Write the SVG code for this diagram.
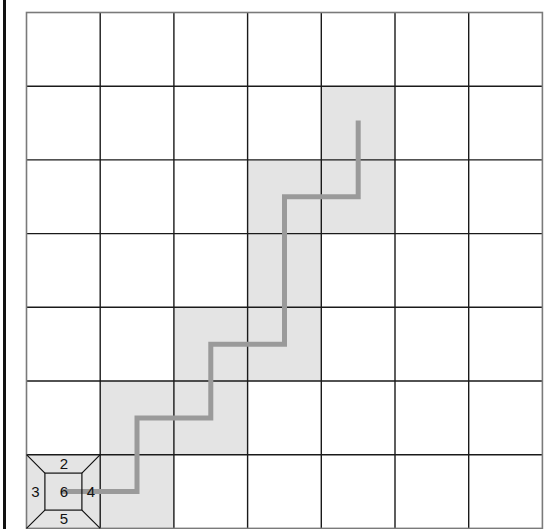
<svg xmlns="http://www.w3.org/2000/svg" width="560" height="529" viewBox="0 0 560 529">
<style>
.shade{fill:#e4e4e4;stroke:none}
.grid{stroke:#1a1a1a;stroke-width:1.4;fill:none}
.outer{stroke:#7a7a7a;stroke-width:1.6;fill:none}
.path{stroke:#9a9a9a;stroke-width:5;fill:none;stroke-linecap:square;stroke-linejoin:miter}
.fr{stroke:#111;stroke-width:1.2;fill:none}
.lbl{font-family:"Liberation Sans",Arial,sans-serif;font-size:15px;fill:#111;text-anchor:middle}
</style>
<rect width="560" height="529" fill="#fff"/>
<line x1="4.5" y1="0" x2="4.5" y2="529" stroke="#111" stroke-width="3"/>
<g id="shaded">
<rect class="shade" x="26.5" y="454.7" width="147.4" height="73.7"/>
<rect class="shade" x="100.2" y="381" width="147.4" height="73.7"/>
<rect class="shade" x="173.9" y="307.3" width="147.4" height="73.7"/>
<rect class="shade" x="247.6" y="233.6" width="73.7" height="73.7"/>
<rect class="shade" x="247.6" y="159.9" width="147.4" height="73.7"/>
<rect class="shade" x="321.3" y="86.2" width="73.7" height="73.7"/>
</g>
<g id="grid">
<path class="grid" d="M100.2 12.5V528.4M173.9 12.5V528.4M247.6 12.5V528.4M321.3 12.5V528.4M395 12.5V528.4M468.7 12.5V528.4M26.5 86.2H542.4M26.5 159.9H542.4M26.5 233.6H542.4M26.5 307.3H542.4M26.5 381H542.4M26.5 454.7H542.4"/>
<rect class="outer" x="26.5" y="12.5" width="515.9" height="515.9"/>
</g>
<g id="connectors">
<path class="path" d="M63.4 491.6H137V417.9H210.8V344.2H284.5V196.8H358.2V123.1"/>
</g>
<g id="frustum">
<rect class="fr" x="44.9" y="473.1" width="37" height="37"/>
<path class="fr" d="M26.5 454.7L44.9 473.1M100.2 454.7L81.9 473.1M26.5 528.4L44.9 510.1M100.2 528.4L81.9 510.1"/>
<text class="lbl" x="64" y="469.3">2</text>
<text class="lbl" x="35.5" y="497.3">3</text>
<text class="lbl" x="64" y="497.3">6</text>
<text class="lbl" x="90.8" y="497.3">4</text>
<text class="lbl" x="64" y="524">5</text>
</g>
</svg>
